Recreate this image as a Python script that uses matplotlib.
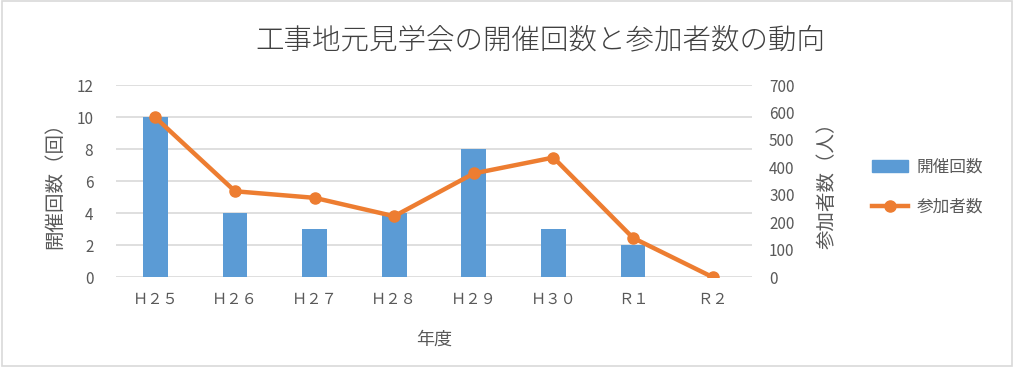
import matplotlib
matplotlib.use("Agg")
import matplotlib.pyplot as plt
from matplotlib.patches import Rectangle
from matplotlib.lines import Line2D

plt.rcParams['font.family'] = ['Noto Sans CJK JP', 'DejaVu Sans']

categories = ["Ｈ２５", "Ｈ２６", "Ｈ２７", "Ｈ２８", "Ｈ２９", "Ｈ３０", "Ｒ１", "Ｒ２"]
sessions = [10, 4, 3, 4, 8, 3, 2, 0]
participants = [582, 313, 289, 222, 378, 436, 143, 0]

blue = "#5b9bd5"
orange = "#ed7d31"
gray = "#595959"

fig = plt.figure(figsize=(10.14, 3.67), dpi=100)
fig.patches.append(Rectangle((0.002, 0.003), 0.996, 0.994, transform=fig.transFigure,
                             fill=False, edgecolor="#d9d9d9", linewidth=1.2))
ax = fig.add_axes([0.114, 0.245, 0.628, 0.523])
ax2 = ax.twinx()

x = list(range(len(categories)))
ax.bar(x, sessions, width=0.31, color=blue, zorder=2, label="開催回数")
ax2.plot(x, participants, color=orange, linewidth=3.2, marker="o", markersize=8,
         zorder=3, label="参加者数")

ax.set_ylim(0, 12)
ax.set_yticks(range(0, 13, 2))
ax2.set_ylim(0, 700)
ax2.set_yticks(range(0, 701, 100))
ax.set_xlim(-0.5, len(categories) - 0.5)
ax.set_xticks(x)
ax.set_xticklabels(categories)

ax.grid(axis="y", color="#d9d9d9", linewidth=1.2, zorder=0)
ax.set_axisbelow(True)
for a in (ax, ax2):
    for s in a.spines.values():
        s.set_visible(False)
    a.tick_params(length=0, colors=gray, labelsize=11)
ax.tick_params(axis="x", pad=10)
ax.tick_params(axis="y", pad=16)
ax2.tick_params(axis="y", pad=12)

ax.set_ylabel("開催回数（回）", fontsize=14, color=gray, labelpad=8)
ax2.set_ylabel("参加者数（人）", fontsize=14, color=gray, labelpad=16)
ax.set_xlabel("年度", fontsize=13, color=gray, labelpad=16)

fig.text(0.533, 0.89, "工事地元見学会の開催回数と参加者数の動向", ha="center", va="center",
         fontsize=20.5, color="#404040", fontweight="light")

handles = [Rectangle((0, 0), 1, 1, color=blue),
           Line2D([0], [0], color=orange, linewidth=3.2, marker="o", markersize=8)]
fig.legend(handles, ["開催回数", "参加者数"], loc="center left",
           bbox_to_anchor=(0.845, 0.49), frameon=False, fontsize=12,
           labelcolor=gray, handlelength=2.2, labelspacing=1.4, handletextpad=0.5)

fig.savefig("out.png", dpi=100)
